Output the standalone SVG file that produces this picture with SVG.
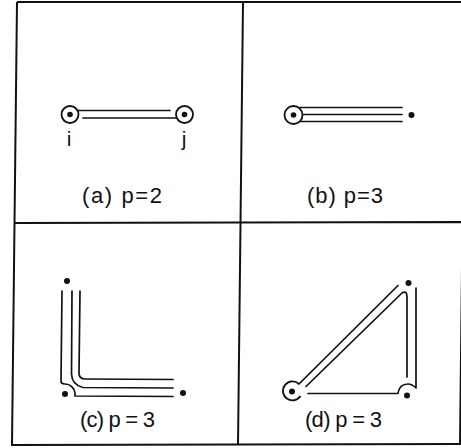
<svg xmlns="http://www.w3.org/2000/svg" width="461" height="448" viewBox="0 0 461 448">
<style>
.frame{fill:none;stroke:#111;stroke-width:2}
.ln{fill:none;stroke:#111;stroke-width:1.7;stroke-linecap:round;stroke-linejoin:round}
.ring{fill:none;stroke:#111;stroke-width:1.8}
.dot{fill:#111}
.lbl{font-family:"Liberation Sans",Arial,sans-serif;font-size:22px;fill:#111}
.idx{font-family:"Liberation Sans",Arial,sans-serif;font-size:21px;fill:#111}
</style>
<rect width="461" height="448" fill="#fff"/>
<g id="frame" class="frame">
<path d="M17 2 L465 2 M17 2 L12 445 L462 444 M465 2 L460 445 M15 223 L461 222 M243 2 L238 445"/>
</g>
<g id="connectors" class="ln">
<path d="M78 110.5 L170 110.5"/>
<path d="M83 118 L176 118"/>
<path d="M300 107.5 L402 107.5"/>
<path d="M303 114.5 L402 114.5"/>
<path d="M300 121.5 L402 121.5"/>
<path d="M80 291 L79 373 Q79 379 85 379 L173 379.5"/>
<path d="M72 291 L71.5 374 Q72 385 83 387.5 L173 388"/>
<path d="M62 291 L61 381 Q61 384 65 384 A10 10 0 0 1 75 393 L75 396 L173 396.5"/>
<path d="M299 384 L398 285.5"/>
<path d="M306 386.5 L402 293 Q404 291.5 406 292.5 Q407 294 407 297 L407 377"/>
<path d="M308 393.5 L398 393.5 C399 386 403 384 408 384 C412 384 414 386 416 388 L416 288"/>
</g>
<g id="node-a-i">
<circle class="ring" cx="70" cy="114.5" r="8.5"/>
<circle class="dot" cx="70" cy="114.5" r="2.8"/>
<text class="idx" x="69" y="146" text-anchor="middle">i</text>
</g>
<g id="node-a-j">
<circle class="ring" cx="184.5" cy="114.5" r="8.5"/>
<circle class="dot" cx="184.5" cy="114.5" r="2.8"/>
<text class="idx" x="184" y="146" text-anchor="middle">j</text>
</g>
<g id="node-b-1">
<circle class="ring" cx="293.5" cy="115" r="9"/>
<circle class="dot" cx="293.5" cy="115" r="2.8"/>
</g>
<g id="node-b-2"><circle class="dot" cx="411.5" cy="115" r="3"/></g>
<g id="node-c-1"><circle class="dot" cx="67" cy="281" r="3"/></g>
<g id="node-c-2"><circle class="dot" cx="65" cy="394" r="3"/></g>
<g id="node-c-3"><circle class="dot" cx="183" cy="393" r="3"/></g>
<g id="node-d-1">
<path class="ring" d="M299 384 A9.5 9.5 0 1 0 300.5 396"/>
<circle class="dot" cx="292" cy="391.5" r="3"/>
</g>
<g id="node-d-2"><circle class="dot" cx="408.5" cy="283" r="3"/></g>
<g id="node-d-3"><circle class="dot" cx="407" cy="395.5" r="3"/></g>
<g id="labels">
<text class="lbl" x="82" y="203" textLength="80" lengthAdjust="spacing">(a) p=2</text>
<text class="lbl" x="307" y="203" textLength="76" lengthAdjust="spacing">(b) p=3</text>
<text class="lbl" x="80" y="427" textLength="75" lengthAdjust="spacing">(c) p = 3</text>
<text class="lbl" x="305" y="427" textLength="77" lengthAdjust="spacing">(d) p = 3</text>
</g>
</svg>
